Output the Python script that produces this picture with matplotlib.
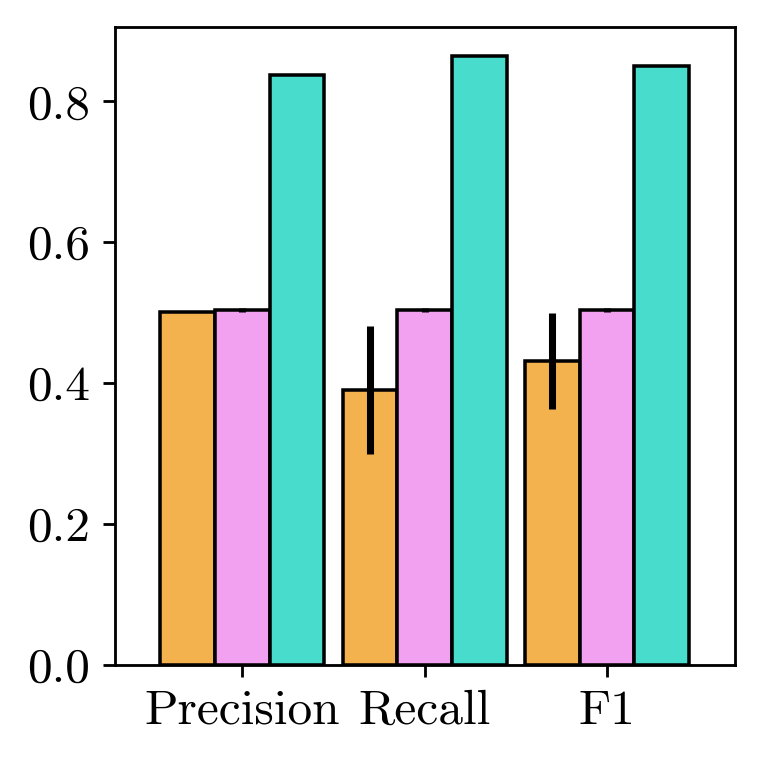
import numpy as np
import matplotlib
matplotlib.use('Agg')
import matplotlib.pyplot as plt

# Computer Modern look (cmr10 ships with matplotlib)
plt.rcParams['font.family'] = ['cmr10', 'DejaVu Serif']
plt.rcParams['mathtext.fontset'] = 'cm'
plt.rcParams['axes.formatter.use_mathtext'] = True
plt.rcParams['font.size'] = 14

metrics = ['Precision', 'Recall', 'F1']

orange_vals = [0.500, 0.390, 0.431]
orange_err = [0.0, 0.091, 0.068]
pink_vals = [0.504, 0.504, 0.504]
pink_err = [0.003, 0.003, 0.003]
teal_vals = [0.837, 0.864, 0.850]
teal_err = [0.0, 0.0, 0.0]

series = [
    (orange_vals, orange_err, '#f4b24f'),
    (pink_vals, pink_err, '#f2a1f0'),
    (teal_vals, teal_err, '#48dccd'),
]

fig = plt.figure(figsize=(3, 3), dpi=254)
ax = fig.add_axes([0.1505, 0.1277, 0.8137, 0.8375])

x = np.arange(len(metrics))
width = 0.3
for i, (vals, errs, col) in enumerate(series):
    ax.bar(x + (i - 1) * width, vals, width, color=col, edgecolor='black',
           linewidth=1.0, yerr=errs, error_kw=dict(elinewidth=2.0, ecolor='black', capsize=0))

ax.set_xticks(x)
ax.set_xticklabels(metrics)
ax.set_yticks([0.0, 0.2, 0.4, 0.6, 0.8])
ax.yaxis.set_major_formatter(matplotlib.ticker.FuncFormatter(lambda v, p: f'{v:.1f}'))
ax.set_xlim(-0.7, 2.7)
ax.set_ylim(0, 0.906)

fig.savefig('out.png', dpi=254)
